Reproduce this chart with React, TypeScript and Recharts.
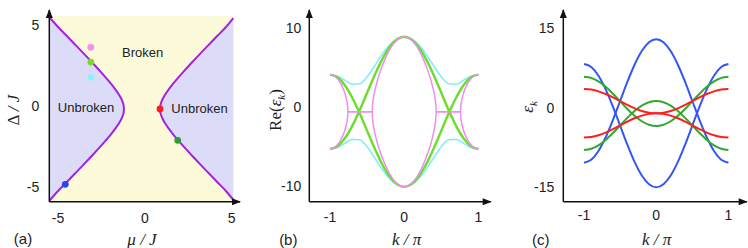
import React from 'react';
import { ComposedChart, Area, Line, Scatter, Cell, XAxis, YAxis, ReferenceArea } from 'recharts';

// ---- (a) phase diagram ----
// boundary of the left "unbroken" pocket: mu and the Delta range at that mu
const muLeft = [-5.5, -4.968, -4.487, -4.007, -3.526, -3.045, -2.565, -2.084, -1.892, -1.699, -1.507, -1.411, -1.315, -1.267, -1.219, -1.201];
const loLeft = [-5.85, -5.215, -4.684, -4.15, -3.611, -3.063, -2.501, -1.91, -1.659, -1.391, -1.091, -0.917, -0.71, -0.576, -0.38, -0.173];
const hiLeft = [5.5, 4.869, 4.338, 3.804, 3.265, 2.717, 2.155, 1.564, 1.313, 1.045, 0.745, 0.571, 0.364, 0.23, 0.034, -0.173];
// right pocket
const muRight = [0.879, 0.897, 0.945, 0.993, 1.089, 1.185, 1.377, 1.57, 1.762, 2.243, 2.723, 3.204, 3.685, 4.165, 4.646, 5.095];
const loRight = [-0.173, -0.38, -0.576, -0.71, -0.917, -1.091, -1.391, -1.659, -1.91, -2.501, -3.063, -3.611, -4.15, -4.684, -5.215, -5.8];
const hiRight = [-0.173, 0.034, 0.23, 0.364, 0.571, 0.745, 1.045, 1.313, 1.564, 2.155, 2.717, 3.265, 3.804, 4.338, 4.869, 5.45];

const dotMu = [-3.11, -3.11, -3.11, 0.875, 1.894, -4.58];
const dotDelta = [3.64, 2.73, 1.79, -0.173, -2.11, -4.83];
const dotColors = ['#f290f0', '#77dd22', '#8ef0ff', '#ff1c1c', '#2e9e2e', '#2a46f0'];

// ---- (b) Re(eps_k) ----
const kGrid = [-1, -0.9, -0.8, -0.7, -0.6, -0.5, -0.4, -0.3, -0.2, -0.1, 0, 0.1, 0.2, 0.3, 0.4, 0.5, 0.6, 0.7, 0.8, 0.9, 1];
const cyanUpper = [4.13, 3.93, 3.42, 2.91, 2.96, 3.84, 5.21, 6.64, 7.85, 8.64, 8.92, 8.64, 7.85, 6.64, 5.21, 3.84, 2.96, 2.91, 3.42, 3.93, 4.13];
const cyanLower = [-5.29, -5.09, -4.58, -4.07, -4.12, -5.0, -6.37, -7.8, -9.01, -9.8, -10.08, -9.8, -9.01, -7.8, -6.37, -5.0, -4.12, -4.07, -4.58, -5.09, -5.29];
const greenRise = [-5.29, -4.94, -3.93, -2.36, -0.38, 1.82, 4.01, 5.99, 7.56, 8.57, 8.92, 8.57, 7.56, 5.99, 4.01, 1.82, -0.38, -2.36, -3.93, -4.94, -5.29];
const greenFall = [4.13, 3.78, 2.77, 1.2, -0.78, -2.98, -5.17, -7.15, -8.72, -9.73, -10.08, -9.73, -8.72, -7.15, -5.17, -2.98, -0.78, 1.2, 2.77, 3.78, 4.13];

const pinkK = [-1, -0.95, -0.9, -0.85, -0.8, -0.78, -0.77, -0.765, -0.76, -0.759, -0.43, -0.428, -0.425, -0.42, -0.41, -0.4, -0.38, -0.35, -0.3, -0.25, -0.2, -0.15, -0.1, -0.05, 0,
  0.05, 0.1, 0.15, 0.2, 0.25, 0.3, 0.35, 0.38, 0.4, 0.41, 0.42, 0.425, 0.428, 0.43, 0.759, 0.76, 0.765, 0.77, 0.78, 0.8, 0.85, 0.9, 0.95, 1];
const pinkUpper = [4.13, 4.0, 3.6, 2.9, 1.78, 1.09, 0.62, 0.29, -0.32, -0.58, -0.58, 0.0, 0.38, 0.82, 1.43, 1.92, 2.73, 3.73, 5.12, 6.27, 7.21, 7.95, 8.49, 8.81, 8.92,
  8.81, 8.49, 7.95, 7.21, 6.27, 5.12, 3.73, 2.73, 1.92, 1.43, 0.82, 0.38, 0.0, -0.58, -0.58, -0.32, 0.29, 0.62, 1.09, 1.78, 2.9, 3.6, 4.0, 4.13];
const pinkLower = [-5.29, -5.16, -4.76, -4.06, -2.94, -2.25, -1.78, -1.45, -0.84, -0.58, -0.58, -1.16, -1.54, -1.98, -2.59, -3.08, -3.89, -4.89, -6.28, -7.43, -8.37, -9.11, -9.65, -9.97, -10.08,
  -9.97, -9.65, -9.11, -8.37, -7.43, -6.28, -4.89, -3.89, -3.08, -2.59, -1.98, -1.54, -1.16, -0.58, -0.58, -0.84, -1.45, -1.78, -2.25, -2.94, -4.06, -4.76, -5.16, -5.29];

// ---- (c) eps_k ----
const blueA = [-10.36, -9.79, -8.14, -5.56, -2.32, 1.28, 4.88, 8.12, 10.7, 12.35, 12.92, 12.35, 10.7, 8.12, 4.88, 1.28, -2.32, -5.56, -8.14, -9.79, -10.36];
const blueB = [8.26, 7.69, 6.04, 3.47, 0.22, -3.37, -6.96, -10.21, -12.78, -14.43, -15.0, -14.43, -12.78, -10.21, -6.96, -3.37, 0.22, 3.47, 6.04, 7.69, 8.26];
const greenA = [-7.96, -7.73, -7.08, -6.06, -4.77, -3.34, -1.91, -0.62, 0.4, 1.05, 1.28, 1.05, 0.4, -0.62, -1.91, -3.34, -4.77, -6.06, -7.08, -7.73, -7.96];
const greenB = [5.87, 5.64, 4.98, 3.95, 2.66, 1.22, -0.22, -1.51, -2.54, -3.2, -3.43, -3.2, -2.54, -1.51, -0.22, 1.22, 2.66, 3.95, 4.98, 5.64, 5.87];
const redA = [3.54, 3.43, 3.1, 2.6, 1.96, 1.25, 0.54, -0.1, -0.6, -0.93, -1.04, -0.93, -0.6, -0.1, 0.54, 1.25, 1.96, 2.6, 3.1, 3.43, 3.54];
const redB = [-5.62, -5.51, -5.18, -4.68, -4.04, -3.33, -2.62, -1.98, -1.48, -1.15, -1.04, -1.15, -1.48, -1.98, -2.62, -3.33, -4.04, -4.68, -5.18, -5.51, -5.62];

const series = (ks: number[], vs: number[]) => ks.map((k, i) => ({ x: k, v: vs[i] }));
const band = (ms: number[], lo: number[], hi: number[]) => ms.map((m, i) => ({ x: m, band: [lo[i], hi[i]] }));

const tickFont = { fontSize: 14, fill: '#222', fontFamily: 'Liberation Sans, Arial, sans-serif' };
const axisStroke = '#111';
const axisLine = { stroke: axisStroke, strokeWidth: 1.5 };

const Txt = ({ x, y, rot, size = 15, serif, italic, children }: any) => (
  <div style={{
    position: 'absolute', left: x, top: y, transform: `translate(-50%, -50%)${rot ? ' rotate(-90deg)' : ''}`,
    whiteSpace: 'nowrap', lineHeight: 1, fontSize: size, color: '#222',
    fontFamily: serif ? 'Liberation Serif, Times New Roman, serif' : 'Liberation Sans, Arial, sans-serif',
    fontStyle: italic ? 'italic' : 'normal',
  }}>{children}</div>
);

// arrow heads at the ends of the axis lines (decoration only)
const axisTips = [[49.3, 201.7, 240], [309.3, 201.7, 490.7], [563.3, 201.7, 746.7]];
const ArrowHeads = () => (
  <svg width={748} height={248} style={{ position: 'absolute', left: 0, top: 0, pointerEvents: 'none' }}>
    {axisTips.map(([x0, y0, xr], i) => (
      <g key={i} fill={axisStroke}>
        <polygon points={`${x0},9 ${x0 - 3.5},18 ${x0 + 3.5},18`} />
        <polygon points={`${xr + 1},${y0} ${xr - 8},${y0 - 3.5} ${xr - 8},${y0 + 3.5}`} />
      </g>
    ))}
  </svg>
);

const PanelA = () => (
  <ComposedChart width={250} height={248} margin={{ top: 10, right: 10, bottom: 16.3, left: 9.3 }}>
    <ReferenceArea x1={-5.5} x2={5.095} y1={-5.906} y2={5.58} fill="#fcfad9" fillOpacity={1} stroke="none" ifOverflow="visible" />
    <XAxis type="number" dataKey="x" domain={[-5.5, 5.48]} ticks={[-5, 0, 5]} allowDataOverflow height={30}
      tickSize={0} tickMargin={11} tick={tickFont} axisLine={axisLine} />
    <YAxis type="number" dataKey="y" domain={[-5.906, 5.95]} ticks={[-5, 0, 5]} allowDataOverflow width={40}
      tickSize={0} tickMargin={10} tick={tickFont} axisLine={axisLine} />
    <Area data={band(muLeft, loLeft, hiLeft)} dataKey="band" type="monotone" fill="#dcdcf8" fillOpacity={1}
      stroke="#a522dd" strokeWidth={2} isAnimationActive={false} dot={false} activeDot={false} />
    <Area data={band(muRight, loRight, hiRight)} dataKey="band" type="monotone" fill="#dcdcf8" fillOpacity={1}
      stroke="#a522dd" strokeWidth={2} isAnimationActive={false} dot={false} activeDot={false} />
    <Scatter data={dotMu.map((m, i) => ({ x: m, y: dotDelta[i] }))} isAnimationActive={false}
      shape={(p: any) => <circle cx={p.cx} cy={p.cy} r={3.4} fill={p.fill} />}>
      {dotColors.map((c, i) => <Cell key={i} fill={c} />)}
    </Scatter>
  </ComposedChart>
);

const PanelB = () => (
  <ComposedChart width={250} height={248} margin={{ top: 10, right: 9.3, bottom: 16.3, left: 9.3 }}>
    <XAxis type="number" dataKey="x" domain={[-1.279, 1.166]} ticks={[-1, 0, 1]} allowDataOverflow height={30}
      tickSize={0} tickMargin={10.5} tick={tickFont} axisLine={axisLine} />
    <YAxis type="number" domain={[-11.96, 12.3]} ticks={[-10, 0, 10]} allowDataOverflow width={50}
      tickSize={0} tickMargin={8} tick={tickFont} axisLine={axisLine} />
    <Line data={series(kGrid, cyanUpper)} dataKey="v" type="monotone" stroke="#86ecf8" strokeWidth={1.6} dot={false} isAnimationActive={false} />
    <Line data={series(kGrid, cyanLower)} dataKey="v" type="monotone" stroke="#86ecf8" strokeWidth={1.6} dot={false} isAnimationActive={false} />
    <Line data={series(kGrid, greenRise)} dataKey="v" type="monotone" stroke="#6ade2a" strokeWidth={2.4} dot={false} isAnimationActive={false} />
    <Line data={series(kGrid, greenFall)} dataKey="v" type="monotone" stroke="#6ade2a" strokeWidth={2.4} dot={false} isAnimationActive={false} />
    <Line data={series(pinkK, pinkUpper)} dataKey="v" type="monotone" stroke="#f08cf0" strokeWidth={1.5} dot={false} isAnimationActive={false} />
    <Line data={series(pinkK, pinkLower)} dataKey="v" type="monotone" stroke="#f08cf0" strokeWidth={1.5} dot={false} isAnimationActive={false} />
  </ComposedChart>
);

const cLines: [number[], string][] = [
  [blueA, '#3456f4'], [blueB, '#3456f4'],
  [greenA, '#2eaa2e'], [greenB, '#2eaa2e'],
  [redA, '#ff1e1e'], [redB, '#ff1e1e'],
];

const PanelC = () => (
  <ComposedChart width={248} height={248} margin={{ top: 10, right: 1.3, bottom: 16.3, left: 13.3 }}>
    <XAxis type="number" dataKey="x" domain={[-1.287, 1.253]} ticks={[-1, 0, 1]} allowDataOverflow height={30}
      tickSize={0} tickMargin={8} tick={tickFont} axisLine={axisLine} />
    <YAxis type="number" domain={[-17.72, 18.45]} ticks={[-15, 0, 15]} allowDataOverflow width={50}
      tickSize={0} tickMargin={9} tick={tickFont} axisLine={axisLine} />
    {cLines.map(([vals, col], i) => (
      <Line key={i} data={series(kGrid, vals)} dataKey="v" type="monotone" stroke={col} strokeWidth={2} dot={false} isAnimationActive={false} />
    ))}
  </ComposedChart>
);

export default function App() {
  return (
    <div style={{ position: 'absolute', left: 0, top: 0, width: 748, height: 248, background: '#fff', overflow: 'hidden' }}>
      <div style={{ position: 'absolute', left: 0, top: 0 }}><PanelA /></div>
      <div style={{ position: 'absolute', left: 250, top: 0 }}><PanelB /></div>
      <div style={{ position: 'absolute', left: 500, top: 0 }}><PanelC /></div>
      <ArrowHeads />

      <Txt x={142.7} y={52} size={13}>Broken</Txt>
      <Txt x={86} y={107} size={13}>Unbroken</Txt>
      <Txt x={199.5} y={107.5} size={13}>Unbroken</Txt>

      <Txt x={13} y={110} rot serif size={17}><span>Δ</span> <i>/ J</i></Txt>
      <Txt x={142} y={238.5} serif italic size={17}>μ / J</Txt>
      <Txt x={23} y={238} size={15}>(a)</Txt>

      <Txt x={277} y={110} rot serif size={17}>Re(<i>ε</i><sub style={{ fontSize: 11 }}><i>k</i></sub>)</Txt>
      <Txt x={406.7} y={239} serif italic size={17}>k / π</Txt>
      <Txt x={288.3} y={238.5} size={15}>(b)</Txt>

      <Txt x={529} y={107} rot serif size={17}><i>ε</i><sub style={{ fontSize: 11 }}><i>k</i></sub></Txt>
      <Txt x={656.7} y={239} serif italic size={17}>k / π</Txt>
      <Txt x={540.7} y={238.5} size={15}>(c)</Txt>
    </div>
  );
}
